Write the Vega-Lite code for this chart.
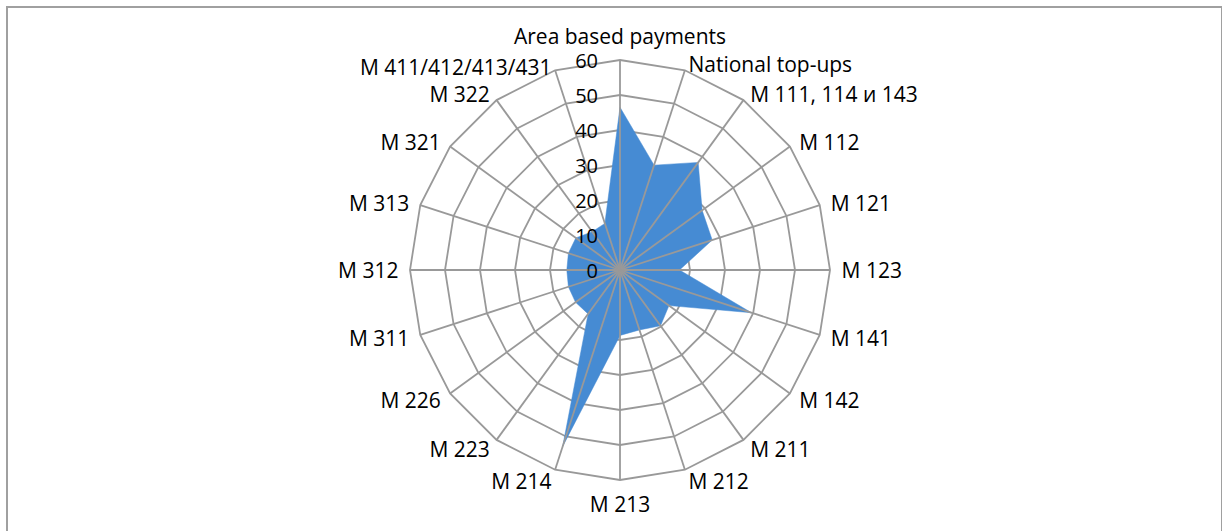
{
  "$schema": "https://vega.github.io/schema/vega-lite/v6.json",
  "width": 1215,
  "height": 560,
  "padding": {"left": 7, "top": 7, "right": 0, "bottom": 0},
  "background": "white",
  "config": {"view": {"stroke": "#a0a0a0", "strokeWidth": 2}},
  "datasets": {
    "radar": [
      {"category": "Area based payments", "value": 46.5},
      {"category": "National top-ups", "value": 31.5},
      {"category": "M 111, 114 и 143", "value": 38},
      {"category": "M 112", "value": 29},
      {"category": "M 121", "value": 27.7},
      {"category": "M 123", "value": 17},
      {"category": "M 141", "value": 39.5},
      {"category": "M 142", "value": 17.3},
      {"category": "M 211", "value": 19.7},
      {"category": "M 212", "value": 18},
      {"category": "M 213", "value": 18.7},
      {"category": "M 214", "value": 53},
      {"category": "M 223", "value": 15.5},
      {"category": "M 226", "value": 15.7},
      {"category": "M 311", "value": 15.5},
      {"category": "M 312", "value": 15.2},
      {"category": "M 313", "value": 15.5},
      {"category": "M 321", "value": 15.6},
      {"category": "M 322", "value": 13.5},
      {"category": "M 411/412/413/431", "value": 14}
    ],
    "ticks": [
      {"level": 0}, {"level": 10}, {"level": 20}, {"level": 30},
      {"level": 40}, {"level": 50}, {"level": 60}
    ]
  },
  "data": {"name": "radar"},
  "transform": [
    {"window": [{"op": "row_number", "as": "idx"}]},
    {"calculate": "2 * PI * (datum.idx - 1) / 20", "as": "ang"},
    {"calculate": "datum.value * sin(datum.ang)", "as": "px"},
    {"calculate": "datum.value * cos(datum.ang)", "as": "py"},
    {"calculate": "60 * sin(datum.ang)", "as": "sx"},
    {"calculate": "60 * cos(datum.ang)", "as": "sy"},
    {"calculate": "63.3 * sin(datum.ang)", "as": "lx"},
    {"calculate": "(datum.idx == 20 ? 61 : cos(datum.ang) > 0 ? 62 : 63.3) * cos(datum.ang)", "as": "ly"}
  ],
  "layer": [
    {
      "transform": [
        {"calculate": "[10, 20, 30, 40, 50, 60]", "as": "levels"},
        {"flatten": ["levels"], "as": ["level"]},
        {"calculate": "datum.level * sin(datum.ang)", "as": "gx"},
        {"calculate": "datum.level * cos(datum.ang)", "as": "gy"}
      ],
      "mark": {"type": "line", "interpolate": "linear-closed", "stroke": "#999999", "strokeWidth": 1.8},
      "encoding": {
        "x": {"field": "gx", "type": "quantitative", "scale": {"domain": [-175.1429, 172], "nice": false, "zero": false}, "axis": null},
        "y": {"field": "gy", "type": "quantitative", "scale": {"domain": [-84.857, 75.1429], "nice": false, "zero": false}, "axis": null},
        "detail": {"field": "level", "type": "nominal"},
        "order": {"field": "idx", "type": "quantitative"}
      }
    },
    {
      "mark": {"type": "line", "interpolate": "linear-closed", "fill": "#468bd3", "stroke": "#468bd3", "strokeWidth": 0.5, "filled": true},
      "encoding": {
        "x": {"field": "px", "type": "quantitative"},
        "y": {"field": "py", "type": "quantitative"},
        "order": {"field": "idx", "type": "quantitative"}
      }
    },
    {
      "mark": {"type": "rule", "stroke": "#999999", "strokeWidth": 1.8},
      "encoding": {
        "x": {"field": "sx", "type": "quantitative"},
        "y": {"field": "sy", "type": "quantitative"},
        "x2": {"datum": 0},
        "y2": {"datum": 0}
      }
    },
    {
      "data": {"name": "ticks"},
      "transform": [],
      "mark": {"type": "text", "align": "right", "baseline": "middle", "dx": -22, "dy": 2, "font": "Open Sans", "fontSize": 20, "color": "black"},
      "encoding": {
        "x": {"datum": 0},
        "y": {"field": "level", "type": "quantitative"},
        "text": {"field": "level", "type": "quantitative"}
      }
    },
    {
      "transform": [{"filter": "datum.idx > 1 && datum.idx < 11"}],
      "mark": {"type": "text", "align": "left", "baseline": "middle", "dy": 2, "font": "Open Sans", "fontSize": 21, "color": "black"},
      "encoding": {
        "x": {"field": "lx", "type": "quantitative"},
        "y": {"field": "ly", "type": "quantitative"},
        "text": {"field": "category"}
      }
    },
    {
      "transform": [{"filter": "datum.idx > 11"}],
      "mark": {"type": "text", "align": "right", "baseline": "middle", "dy": 2, "font": "Open Sans", "fontSize": 21, "color": "black"},
      "encoding": {
        "x": {"field": "lx", "type": "quantitative"},
        "y": {"field": "ly", "type": "quantitative"},
        "text": {"field": "category"}
      }
    },
    {
      "transform": [{"filter": "datum.idx == 1"}],
      "mark": {"type": "text", "align": "center", "baseline": "bottom", "dy": -5, "font": "Open Sans", "fontSize": 21, "color": "black"},
      "encoding": {
        "x": {"field": "lx", "type": "quantitative"},
        "y": {"field": "ly", "type": "quantitative"},
        "text": {"field": "category"}
      }
    },
    {
      "transform": [{"filter": "datum.idx == 11"}],
      "mark": {"type": "text", "align": "center", "baseline": "top", "dy": 3, "font": "Open Sans", "fontSize": 21, "color": "black"},
      "encoding": {
        "x": {"field": "lx", "type": "quantitative"},
        "y": {"field": "ly", "type": "quantitative"},
        "text": {"field": "category"}
      }
    }
  ]
}
